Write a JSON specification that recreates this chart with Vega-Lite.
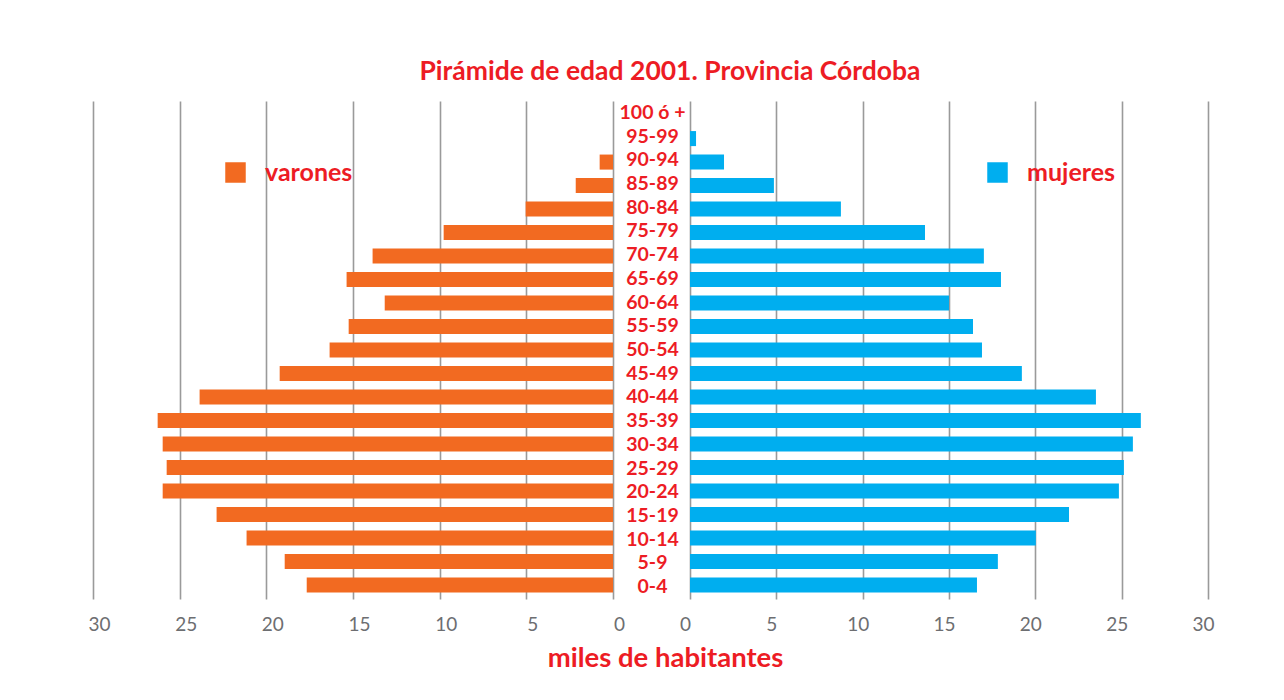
{
  "$schema": "https://vega.github.io/schema/vega-lite/v6.json",
  "padding": {"left": 87, "top": 58, "right": 0, "bottom": 0},
  "background": "white",
  "bounds": "flush",
  "title": {
    "text": "Pirámide de edad 2001. Provincia Córdoba",
    "font": "Lato",
    "fontSize": 26.5,
    "fontWeight": "bold",
    "color": "#ed1c24",
    "anchor": "middle",
    "offset": 16,
    "dx": 19
  },
  "datasets": {
    "pop": [
      {"edad": "100 ó +", "sexo": "varones", "miles": 0},
      {"edad": "95-99", "sexo": "varones", "miles": 0},
      {"edad": "90-94", "sexo": "varones", "miles": 0.77},
      {"edad": "85-89", "sexo": "varones", "miles": 2.15},
      {"edad": "80-84", "sexo": "varones", "miles": 5.04},
      {"edad": "75-79", "sexo": "varones", "miles": 9.77},
      {"edad": "70-74", "sexo": "varones", "miles": 13.87},
      {"edad": "65-69", "sexo": "varones", "miles": 15.37},
      {"edad": "60-64", "sexo": "varones", "miles": 13.17},
      {"edad": "55-59", "sexo": "varones", "miles": 15.25},
      {"edad": "50-54", "sexo": "varones", "miles": 16.35},
      {"edad": "45-49", "sexo": "varones", "miles": 19.23},
      {"edad": "40-44", "sexo": "varones", "miles": 23.85},
      {"edad": "35-39", "sexo": "varones", "miles": 26.27},
      {"edad": "30-34", "sexo": "varones", "miles": 25.98},
      {"edad": "25-29", "sexo": "varones", "miles": 25.75},
      {"edad": "20-24", "sexo": "varones", "miles": 25.98},
      {"edad": "15-19", "sexo": "varones", "miles": 22.87},
      {"edad": "10-14", "sexo": "varones", "miles": 21.14},
      {"edad": "5-9", "sexo": "varones", "miles": 18.94},
      {"edad": "0-4", "sexo": "varones", "miles": 17.67},
      {"edad": "100 ó +", "sexo": "mujeres", "miles": 0},
      {"edad": "95-99", "sexo": "mujeres", "miles": 0.35},
      {"edad": "90-94", "sexo": "mujeres", "miles": 1.97},
      {"edad": "85-89", "sexo": "mujeres", "miles": 4.86},
      {"edad": "80-84", "sexo": "mujeres", "miles": 8.74},
      {"edad": "75-79", "sexo": "mujeres", "miles": 13.61},
      {"edad": "70-74", "sexo": "mujeres", "miles": 17.02},
      {"edad": "65-69", "sexo": "mujeres", "miles": 18.01},
      {"edad": "60-64", "sexo": "mujeres", "miles": 15.0},
      {"edad": "55-59", "sexo": "mujeres", "miles": 16.39},
      {"edad": "50-54", "sexo": "mujeres", "miles": 16.91},
      {"edad": "45-49", "sexo": "mujeres", "miles": 19.22},
      {"edad": "40-44", "sexo": "mujeres", "miles": 23.51},
      {"edad": "35-39", "sexo": "mujeres", "miles": 26.11},
      {"edad": "30-34", "sexo": "mujeres", "miles": 25.65},
      {"edad": "25-29", "sexo": "mujeres", "miles": 25.13},
      {"edad": "20-24", "sexo": "mujeres", "miles": 24.84},
      {"edad": "15-19", "sexo": "mujeres", "miles": 21.95},
      {"edad": "10-14", "sexo": "mujeres", "miles": 20.03},
      {"edad": "5-9", "sexo": "mujeres", "miles": 17.83},
      {"edad": "0-4", "sexo": "mujeres", "miles": 16.62}
    ]
  },
  "spacing": 0,
  "hconcat": [
    {
      "width": 520,
      "height": 498,
      "data": {"name": "pop"},
      "transform": [{"filter": "datum.sexo === 'varones'"}],
      "mark": {"type": "bar"},
      "encoding": {
        "y": {
          "field": "edad", "type": "nominal",
          "sort": ["100 ó +","95-99","90-94","85-89","80-84","75-79","70-74","65-69","60-64","55-59","50-54","45-49","40-44","35-39","30-34","25-29","20-24","15-19","10-14","5-9","0-4"],
          "scale": {"paddingInner": 0.36, "paddingOuter": 0.28},
          "axis": null
        },
        "x": {
          "field": "miles", "type": "quantitative",
          "scale": {"domain": [0, 30], "reverse": true, "nice": false},
          "axis": {"values": [0,5,10,15,20,25,30], "title": null, "labelOffset": 6}
        },
        "color": {
          "field": "sexo", "type": "nominal",
          "scale": {"domain": ["varones"], "range": ["#f26a21"]},
          "legend": {"orient": "none", "legendX": 130, "legendY": 59, "title": null}
        }
      }
    },
    {
      "width": 77,
      "height": 498,
      "data": {"name": "pop"},
      "transform": [{"filter": "datum.sexo === 'varones'"}],
      "title": {
        "text": "miles de habitantes",
        "orient": "bottom",
        "font": "Lato",
        "fontSize": 27.5,
        "fontWeight": "bold",
        "color": "#ed1c24",
        "anchor": "middle",
        "offset": 46,
        "dx": 14
      },
      "mark": {"type": "text", "font": "Lato", "fontSize": 19.5, "fontWeight": "bold", "color": "#ed1c24", "align": "center", "baseline": "middle", "dx": 1},
      "encoding": {
        "y": {
          "field": "edad", "type": "nominal",
          "sort": ["100 ó +","95-99","90-94","85-89","80-84","75-79","70-74","65-69","60-64","55-59","50-54","45-49","40-44","35-39","30-34","25-29","20-24","15-19","10-14","5-9","0-4"],
          "scale": {"paddingInner": 0.36, "paddingOuter": 0.28},
          "axis": null
        },
        "text": {"field": "edad", "type": "nominal"}
      }
    },
    {
      "width": 518,
      "height": 498,
      "data": {"name": "pop"},
      "transform": [{"filter": "datum.sexo === 'mujeres'"}],
      "mark": {"type": "bar"},
      "encoding": {
        "y": {
          "field": "edad", "type": "nominal",
          "sort": ["100 ó +","95-99","90-94","85-89","80-84","75-79","70-74","65-69","60-64","55-59","50-54","45-49","40-44","35-39","30-34","25-29","20-24","15-19","10-14","5-9","0-4"],
          "scale": {"paddingInner": 0.36, "paddingOuter": 0.28},
          "axis": null
        },
        "x": {
          "field": "miles", "type": "quantitative",
          "scale": {"domain": [0, 30], "nice": false},
          "axis": {"values": [0,5,10,15,20,25,30], "title": null, "labelOffset": -5}
        },
        "color": {
          "field": "sexo", "type": "nominal",
          "scale": {"domain": ["mujeres"], "range": ["#00aeef"]},
          "legend": {"orient": "none", "legendX": 295, "legendY": 59, "title": null}
        }
      }
    }
  ],
  "resolve": {"scale": {"x": "independent", "y": "independent", "color": "independent"}, "legend": {"color": "independent"}},
  "config": {
    "view": {"stroke": null},
    "axis": {
      "domain": false,
      "ticks": false,
      "grid": true,
      "gridColor": "#9a9a9a",
      "gridWidth": 1.6,
      "labelColor": "#6d6e71",
      "labelFont": "Lato",
      "labelFontSize": 19,
      "labelPadding": 16,
      "labelFlush": false
    },
    "legend": {
      "symbolType": "square",
      "symbolSize": 420,
      "symbolStrokeWidth": 0,
      "symbolOpacity": 1,
      "labelFont": "Lato",
      "labelFontSize": 25,
      "labelFontWeight": "bold",
      "labelColor": "#ed1c24",
      "labelOffset": 17,
      "labelLimit": 300,
      "padding": 0
    }
  }
}
